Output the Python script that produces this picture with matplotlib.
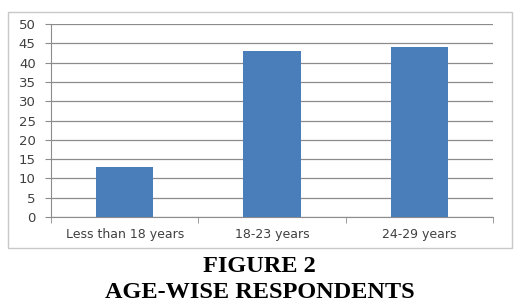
import numpy as np
import matplotlib.pyplot as plt
from matplotlib.patches import Rectangle

# data
categories = ['Less than 18 years', '18-23 years', '24-29 years']
respondents = [13, 43, 44]
y_ticks = list(range(0, 55, 5))

fig = plt.figure(figsize=(5.19, 3.07), dpi=100)
W, H = 519, 307

# outer chart frame
fig.patches.append(Rectangle((8 / W, 1 - 248 / H), (512 - 8) / W, (248 - 12) / H,
                             transform=fig.transFigure, fill=False,
                             edgecolor='#c8c8c8', linewidth=1.0))

ax = fig.add_axes([51 / W, 1 - 217 / H, (493 - 51) / W, (217 - 24) / H])
x = np.arange(len(categories))
ax.bar(x, respondents, width=0.39, color='#4a7ebb', zorder=3)

ax.set_xlim(-0.5, len(categories) - 0.5)
ax.set_ylim(0, 50)
ax.set_yticks(y_ticks)
ax.set_yticklabels([str(t) for t in y_ticks], fontsize=9.5, color='#404040')
ax.yaxis.grid(True, color='#8c8c8c', linewidth=0.9, zorder=0)
ax.set_xticks(x)
ax.set_xticklabels(categories, fontsize=9, color='#404040')
ax.tick_params(axis='x', length=0, pad=8)
ax.set_xticks(np.arange(len(categories) + 1) - 0.5, minor=True)
ax.tick_params(axis='x', which='minor', length=4, color='#8c8c8c')
ax.tick_params(axis='y', length=4, color='#8c8c8c', pad=7)

for side in ['top', 'right']:
    ax.spines[side].set_visible(False)
ax.spines['left'].set_color('#8c8c8c')
ax.spines['bottom'].set_color('#8c8c8c')

fig.text(0.5, 1 - 267 / H, 'FIGURE 2', ha='center', va='center',
         fontsize=17.5, fontweight='bold', family='Liberation Serif')
fig.text(0.5, 1 - 292 / H, 'AGE-WISE RESPONDENTS', ha='center', va='center',
         fontsize=17.5, fontweight='bold', family='Liberation Serif')

fig.savefig('out.png', dpi=100)
